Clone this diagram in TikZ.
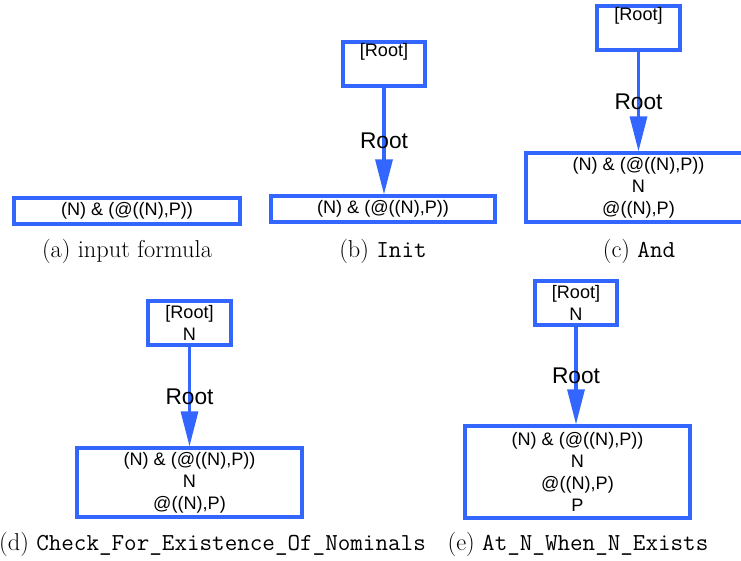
\documentclass[tikz,border=0pt]{standalone}
\usepackage{fontspec}
\newfontfamily\hv{Liberation Sans}
\usetikzlibrary{arrows.meta}
\definecolor{blu}{RGB}{51,102,255}
\tikzset{
  gbox/.style={draw=blu, line width=3.2pt, inner sep=0pt, align=center,
    font=\hv\fontsize{18.1}{22}\selectfont},
  arr/.style={draw=blu, line width=3.2pt, -{Triangle[length=35pt,width=17pt]}},
  lbl/.style={font=\hv\fontsize{22.7}{26}\selectfont, text=black, inner sep=0pt},
  captxt/.style={font=\fontsize{24.4}{28}\selectfont, anchor=base, inner sep=0pt}
}
\begin{document}
\begin{tikzpicture}[x=1pt,y=-1pt]
\useasboundingbox (0,0) rectangle (741,560);
\clip (0,0) rectangle (741,560);
% (a)
\node[gbox, minimum width=226pt, minimum height=26pt] (a1) at (127,211) {(N) \& (@((N),P))};
\node[captxt] (ca) at (127,257) {(a) input formula};
% (b)
\node[gbox, minimum width=82pt, minimum height=44pt] (b1) at (384,64) {[Root]\\\strut};
\node[gbox, minimum width=224pt, minimum height=26pt] (b2) at (383,209) {(N) \& (@((N),P))};
\draw[arr] (b1.south) -- (b1.south |- b2.north) node[midway, lbl] {Root};
\node[captxt] (cb) at (383,257) {(b) \texttt{Init}};
% (c)
\node[gbox, minimum width=83pt, minimum height=44pt] (c1) at (638.5,28) {[Root]\\\strut};
\node[gbox, minimum width=225pt, minimum height=69pt] (c2) at (638.5,187.5) {(N) \& (@((N),P))\\N\\@((N),P)};
\draw[arr] (c1.south) -- (c1.south |- c2.north) node[midway, lbl] {Root};
\node[captxt] (cc) at (639,257) {(c) \texttt{And}};
% (d)
\node[gbox, minimum width=83pt, minimum height=44pt] (d1) at (189.5,323) {[Root]\\N};
\node[gbox, minimum width=225pt, minimum height=69pt] (d2) at (189.5,482.5) {(N) \& (@((N),P))\\N\\@((N),P)};
\draw[arr] (d1.south) -- (d1.south |- d2.north) node[midway, lbl] {Root};
\node[captxt] (cd) at (212.5,550) {(d) \texttt{Check\_For\_Existence\_Of\_Nominals}};
% (e)
\node[gbox, minimum width=82pt, minimum height=44pt] (e1) at (576,303) {[Root]\\N};
\node[gbox, minimum width=225pt, minimum height=92pt] (e2) at (577.5,472) {(N) \& (@((N),P))\\N\\@((N),P)\\P};
\draw[arr] (e1.south) -- (e1.south |- e2.north) node[midway, lbl] {Root};
\node[captxt] (ce) at (578,550) {(e) \texttt{At\_N\_When\_N\_Exists}};
\end{tikzpicture}
\end{document}
